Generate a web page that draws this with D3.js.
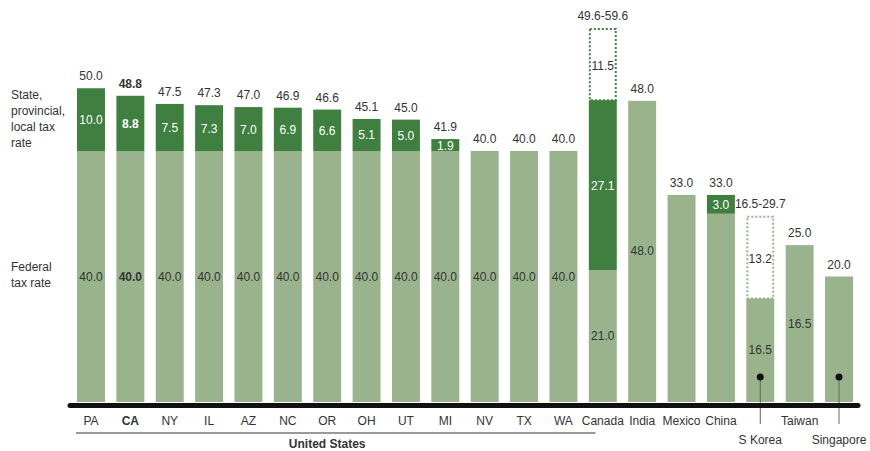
<!DOCTYPE html>
<html><head><meta charset="utf-8">
<script src="https://cdn.jsdelivr.net/npm/d3@7"></script>
<style>
body{margin:0;background:#fff;}
text{font-family:"Liberation Sans",Arial,sans-serif;}
</style></head>
<body><svg id="c" width="870" height="451"></svg>
<script>
const categories = ["PA","CA","NY","IL","AZ","NC","OR","OH","UT","MI","NV","TX","WA","Canada","India","Mexico","China","S Korea","Taiwan","Singapore"];
const federal = [40,40,40,40,40,40,40,40,40,40,40,40,40,21,48,33,30,16.5,25,20];
const stateLocal = [10,8.8,7.5,7.3,7.0,6.9,6.6,5.1,5.0,1.9,0,0,0,27.1,0,0,3.0,0,0,0];
const rangeExtra = [0,0,0,0,0,0,0,0,0,0,0,0,0,11.5,0,0,0,13.2,0,0];
const totalLabels = ["50.0","48.8","47.5","47.3","47.0","46.9","46.6","45.1","45.0","41.9","40.0","40.0","40.0","49.6-59.6","48.0","33.0","33.0","16.5-29.7","25.0","20.0"];
const federalLabels = ["40.0","40.0","40.0","40.0","40.0","40.0","40.0","40.0","40.0","40.0","40.0","40.0","40.0","21.0","48.0","","","16.5","16.5",""];
const stateLabels = ["10.0","8.8","7.5","7.3","7.0","6.9","6.6","5.1","5.0","1.9","","","","27.1","","","3.0","","",""];
const extraLabels = ["","","","","","","","","","","","","","11.5","","","","13.2","",""];
const boldCategory = "CA";
const groupLabel = "United States";
const groupMembers = categories.slice(0,13);
const leaderCategories = ["S Korea","Singapore"];

const DARK = "#3f7f3f", LIGHT = "#99b38d", TXT = "#333";
const svg = d3.select("#c");
const x = d3.scaleBand().domain(categories).range([71.3, 858.7]).paddingInner(0.29).paddingOuter(0.145);
const y = d3.scaleLinear().domain([0, 60]).range([402, 25.5]);
const bw = x.bandwidth();

const data = categories.map((c,i)=>({c,i,fed:federal[i],st:stateLocal[i],ex:rangeExtra[i]}));
const g = svg.append("g");

// federal
g.selectAll(".fed").data(data).join("rect")
  .attr("x",d=>x(d.c)).attr("width",bw)
  .attr("y",d=>y(d.fed)).attr("height",d=>y(0)-y(d.fed)).attr("fill",LIGHT);
// state
g.selectAll(".st").data(data.filter(d=>d.st>0)).join("rect")
  .attr("x",d=>x(d.c)).attr("width",bw)
  .attr("y",d=>y(d.fed+d.st)).attr("height",d=>y(d.fed)-y(d.fed+d.st)).attr("fill",DARK);
// range dashed boxes
g.selectAll(".ex").data(data.filter(d=>d.ex>0)).join("rect")
  .attr("x",d=>x(d.c)+1).attr("width",bw-2)
  .attr("y",d=>y(d.fed+d.st+d.ex)+1).attr("height",d=>y(d.fed+d.st)-y(d.fed+d.st+d.ex)-1)
  .attr("fill","none").attr("stroke",d=>d.st>0?DARK:LIGHT).attr("stroke-width",2).attr("stroke-dasharray","2,2");

const isBold = d=>d.c===boldCategory ? "bold" : "normal";
// top labels
g.selectAll(".tl").data(data).join("text")
  .attr("x",d=>x(d.c)+bw/2).attr("y",d=>y(d.fed+d.st+d.ex)-8)
  .attr("text-anchor","middle").attr("font-size",12).attr("fill",TXT)
  .attr("font-weight",isBold).text(d=>totalLabels[d.i]);
// federal labels
g.selectAll(".fl").data(data).join("text")
  .attr("x",d=>x(d.c)+bw/2).attr("y",d=>(y(0)+y(d.fed))/2+4)
  .attr("text-anchor","middle").attr("font-size",12).attr("fill",TXT)
  .attr("font-weight",isBold).text(d=>federalLabels[d.i]);
// state labels
g.selectAll(".sl").data(data.filter(d=>d.st>0)).join("text")
  .attr("x",d=>x(d.c)+bw/2).attr("y",d=>(y(d.fed)+y(d.fed+d.st))/2+4.5)
  .attr("text-anchor","middle").attr("font-size",12).attr("fill","#fff")
  .attr("font-weight",isBold).text(d=>stateLabels[d.i]);
// extra labels
g.selectAll(".el").data(data.filter(d=>d.ex>0)).join("text")
  .attr("x",d=>x(d.c)+bw/2).attr("y",d=>(y(d.fed+d.st)+y(d.fed+d.st+d.ex))/2+6)
  .attr("text-anchor","middle").attr("font-size",12).attr("fill",TXT)
  .text(d=>extraLabels[d.i]);

// leader lines
const ld = data.filter(d=>leaderCategories.includes(d.c));
g.selectAll(".ll").data(ld).join("line")
  .attr("x1",d=>x(d.c)+bw/2).attr("x2",d=>x(d.c)+bw/2)
  .attr("y1",377).attr("y2",424).attr("stroke","#666").attr("stroke-width",1);
g.selectAll(".ld").data(ld).join("circle")
  .attr("cx",d=>x(d.c)+bw/2).attr("cy",377).attr("r",3.5).attr("fill","#111");

// axis baseline
svg.append("line").attr("x1",70).attr("x2",858).attr("y1",405.5).attr("y2",405.5)
  .attr("stroke","#111").attr("stroke-width",5).attr("stroke-linecap","round");

// category axis
const ax = svg.append("g").attr("transform","translate(0,408)")
  .call(d3.axisBottom(x).tickSize(0).tickPadding(8));
ax.select(".domain").remove();
ax.selectAll(".tick text")
  .attr("font-family","Liberation Sans, Arial, sans-serif").attr("font-size",12).attr("fill",TXT)
  .attr("font-weight",d=>d===boldCategory?"bold":"normal")
  .attr("dy",d=>leaderCategories.includes(d)?"2.3em":"0.71em");

// group underline & label
const gx0 = x(groupMembers[0]) - 1, gx1 = x(groupMembers[groupMembers.length-1]) + bw + 18;
svg.append("line").attr("x1",gx0).attr("x2",gx1).attr("y1",433).attr("y2",433)
  .attr("stroke",TXT).attr("stroke-width",1);
svg.append("text").attr("x",(x("PA")+x("WA")+bw)/2).attr("y",448).attr("text-anchor","middle")
  .attr("font-size",12).attr("font-weight","bold").attr("fill",TXT).text(groupLabel);

// left labels
const leftA = ["State,","provincial,","local tax","rate"];
const leftB = ["Federal","tax rate"];
svg.append("text").attr("x",11).attr("y",99).attr("font-size",12).attr("fill",TXT)
  .selectAll("tspan").data(leftA).join("tspan").attr("x",11).attr("dy",(d,i)=>i?16:0).text(d=>d);
svg.append("text").attr("x",11).attr("y",271).attr("font-size",12).attr("fill",TXT)
  .selectAll("tspan").data(leftB).join("tspan").attr("x",11).attr("dy",(d,i)=>i?16:0).text(d=>d);
</script></body></html>
